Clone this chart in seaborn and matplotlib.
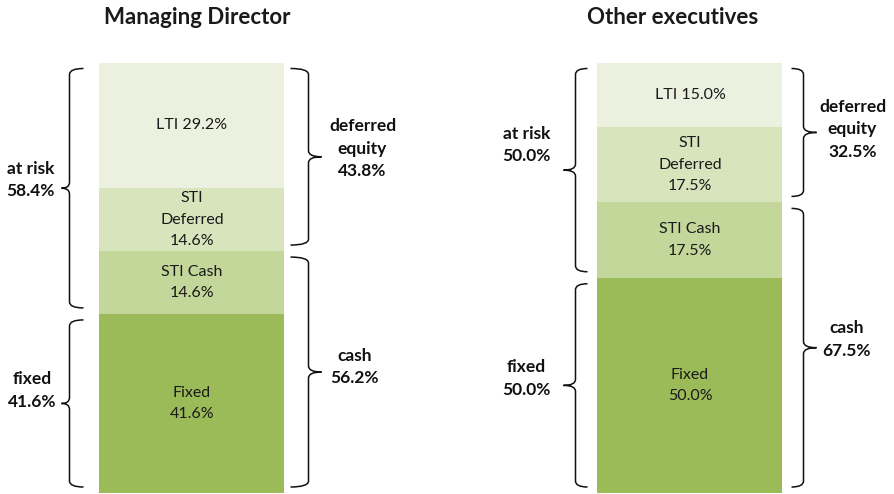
import numpy as np
import pandas as pd
import matplotlib
matplotlib.use("Agg")
import matplotlib.pyplot as plt
from matplotlib.path import Path
from matplotlib.patches import PathPatch
import seaborn as sns

# ===================== Data =====================
panels = ["Managing Director", "Other executives"]
components = ["Fixed", "STI Cash", "STI Deferred", "LTI"]   # bottom -> top
fixed = [41.6, 50.0]
sti_cash = [14.6, 17.5]
sti_deferred = [14.6, 17.5]
lti = [29.2, 15.0]

seg_labels = {
    "Fixed": "Fixed\n{:.1f}%",
    "STI Cash": "STI Cash\n{:.1f}%",
    "STI Deferred": "STI\nDeferred\n{:.1f}%",
    "LTI": "LTI {:.1f}%",
}
colors = {
    "Fixed": "#9BBB59",
    "STI Cash": "#C4D79B",
    "STI Deferred": "#D8E4BC",
    "LTI": "#EBF1DE",
}

# ===================== Layout (pixel based) =====================
W, H, DPI = 895, 494, 100
BAR_PX = (192, 690)          # bar centres
PX_PER_X = BAR_PX[1] - BAR_PX[0]
Y_BOTTOM_PX, Y_TOP_PX = 493, 62.5   # pixel rows for 0 and 100
PX_PER_Y = (Y_BOTTOM_PX - Y_TOP_PX) / 100.0
BAR_W = 185 / PX_PER_X

def dx(px):
    return px / PX_PER_X

def dy(px):
    return px / PX_PER_Y

sns.set_style("white")
plt.rcParams["font.family"] = ["Lato", "DejaVu Sans"]

fig = plt.figure(figsize=(W / DPI, H / DPI), dpi=DPI)
ax = fig.add_axes([0, 0, 1, 1])

# ===================== Stacked bars (drawn as cumulative layers) =====================
df = pd.DataFrame({"panel": panels, "Fixed": fixed, "STI Cash": sti_cash,
                   "STI Deferred": sti_deferred, "LTI": lti})
cum = df[components].cumsum(axis=1)
bottoms = cum - df[components].values

for comp in reversed(components):
    sns.barplot(x=df["panel"], y=cum[comp], color=colors[comp], saturation=1,
                width=BAR_W, linewidth=0, ax=ax, zorder=2)

for i in range(len(panels)):
    for comp in components:
        mid = bottoms.loc[i, comp] + df.loc[i, comp] / 2
        ax.text(i, mid, seg_labels[comp].format(df.loc[i, comp]),
                ha="center", va="center", fontsize=11.5, color="#1a1a1a",
                linespacing=1.7, zorder=3)

# ===================== Braces =====================
def brace(ax, x_edge, y0, y1, side, gap, arm, tip, r=6):
    # side=-1: brace left of bar, tip pointing left
    xr = x_edge + side * dx(gap)
    xm = xr + side * dx(arm)
    xt = xm + side * dx(tip)
    ym = (y0 + y1) / 2
    rr = dy(r)
    verts = [(xr, y1), (xm, y1), (xm, y1 - rr),
             (xm, ym + rr), (xm, ym), (xt, ym),
             (xm, ym), (xm, ym - rr),
             (xm, y0 + rr), (xm, y0), (xr, y0)]
    codes = [Path.MOVETO, Path.CURVE3, Path.CURVE3,
             Path.LINETO, Path.CURVE3, Path.CURVE3,
             Path.CURVE3, Path.CURVE3,
             Path.LINETO, Path.CURVE3, Path.CURVE3]
    ax.add_patch(PathPatch(Path(verts, codes), fill=False, lw=1.1,
                           edgecolor="#111111", zorder=3, capstyle="butt"))
    return xt, ym

at_risk = [a + b + c for a, b, c in zip(lti, sti_deferred, sti_cash)]
deferred_eq = [a + b for a, b in zip(lti, sti_deferred)]
cash = [a + b for a, b in zip(fixed, sti_cash)]

# per panel: (gap, arm, tip) in px for left / right braces
left_geom = [(16, 14, 8), (10, 12, 12)]
right_geom = [(6, 18, 13), (9, 12, 13)]
# label offsets (dx, dy) in px from the brace tip
lab_off = [
    {"at risk": (-31, -8), "fixed": (-29, -13), "deferred": (41, -8), "cash": (33, -5)},
    {"at risk": (-37, -25), "fixed": (-37, -7), "deferred": (36, -3), "cash": (30, -8)},
]
inset = 6

for i in range(len(panels)):
    left_edge = i - BAR_W / 2
    right_edge = i + BAR_W / 2
    braces = [
        ("at risk", "at risk\n{:.1f}%".format(at_risk[i]), fixed[i], 100, -1, left_edge, left_geom[i]),
        ("fixed", "fixed\n{:.1f}%".format(fixed[i]), 0, fixed[i], -1, left_edge, left_geom[i]),
        ("deferred", "deferred\nequity\n{:.1f}%".format(deferred_eq[i]), cash[i], 100, 1, right_edge, right_geom[i]),
        ("cash", "cash\n{:.1f}%".format(cash[i]), 0, cash[i], 1, right_edge, right_geom[i]),
    ]
    for key, txt, y0, y1, side, edge, (g, a, t) in braces:
        xt, ym = brace(ax, edge, y0 + dy(inset), y1 - dy(inset), side, g, a, t)
        ox, oy = lab_off[i][key]
        ax.text(xt + dx(ox), ym - dy(oy), txt, ha="center", va="center",
                fontsize=12.5, fontweight="bold", color="#111111",
                linespacing=1.5, multialignment="center")

# ===================== Titles =====================
title_off = [5, -17]
for i, name in enumerate(panels):
    ax.text(i + dx(title_off[i]), 100 + dy(Y_TOP_PX - 17), name, ha="center",
            va="center", fontsize=16, fontweight="bold", color="#1a1a1a")

ax.set_xlim(-dx(BAR_PX[0]), 1 + dx(W - BAR_PX[1]))
ax.set_ylim(-dy(H - Y_BOTTOM_PX), 100 + dy(Y_TOP_PX))
ax.set_axis_off()

fig.savefig("out.png", dpi=DPI, facecolor="white")
